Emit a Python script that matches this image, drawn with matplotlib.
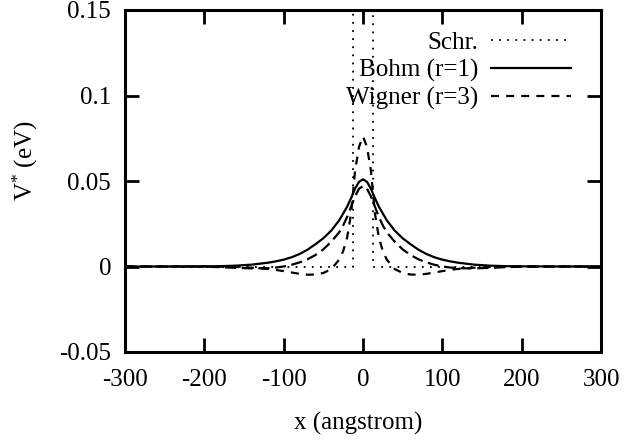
import matplotlib
matplotlib.use("Agg")
import matplotlib.pyplot as plt

plt.rcParams['font.family'] = ['Liberation Serif', 'DejaVu Serif']
plt.rcParams['mathtext.fontset'] = 'custom'
plt.rcParams['mathtext.rm'] = 'Liberation Serif'
plt.rcParams['mathtext.it'] = 'Liberation Serif:italic'
plt.rcParams['axes.unicode_minus'] = False

# ---- data ----
x = [-300, -250, -200, -180, -160, -140, -120, -110, -100, -90, -80, -70, -60, -50,
     -40, -30, -25, -20, -15, -10, -5, 0, 5, 10, 15, 20, 25, 30, 40, 50, 60, 70,
     80, 90, 100, 110, 120, 140, 160, 180, 200, 250, 300]

bohm = [0.0, 0.0, 0.0001, 0.0002, 0.0005, 0.0011, 0.0022, 0.003, 0.004, 0.0054,
        0.0073, 0.0098, 0.013, 0.0165, 0.021, 0.027, 0.031, 0.035, 0.040, 0.0455,
        0.0495, 0.051,
        0.0495, 0.0455, 0.040, 0.035, 0.031, 0.027, 0.021, 0.0165, 0.013, 0.0098,
        0.0073, 0.0054, 0.004, 0.003, 0.0022, 0.0011, 0.0005, 0.0002, 0.0001, 0.0, 0.0]

wigner = [0.0, 0.0, 0.0, -0.0001, -0.0003, -0.0007, -0.0014, -0.002, -0.0027, -0.0035,
          -0.0043, -0.0048, -0.0047, -0.0038, -0.0015, 0.004, 0.009, 0.017, 0.031,
          0.056, 0.070, 0.076,
          0.070, 0.056, 0.031, 0.017, 0.009, 0.004, -0.0015, -0.0038, -0.0047, -0.0048,
          -0.0043, -0.0035, -0.0027, -0.002, -0.0014, -0.0007, -0.0003, -0.0001, 0.0, 0.0, 0.0]

other = [0.0, 0.0, -0.0001, -0.0004, -0.0008, -0.0011, -0.001, -0.0006, 0.0, 0.001,
         0.0024, 0.0042, 0.0067, 0.010, 0.0145, 0.020, 0.024, 0.029, 0.035, 0.041,
         0.0455, 0.047,
         0.0455, 0.041, 0.035, 0.029, 0.024, 0.020, 0.0145, 0.010, 0.0067, 0.0042,
         0.0024, 0.001, 0.0, -0.0006, -0.001, -0.0011, -0.0008, -0.0004, -0.0001, 0.0, 0.0]

schr_x = [-300, -13, -13, 13, 13, 300]
schr_v = [0.0, 0.0, 0.3, 0.3, 0.0, 0.0]

xticks = [-300, -200, -100, 0, 100, 200, 300]
xticklabels = ['-300', '-200', '-100', '0', '100', '200', '300']
yticks = [-0.05, 0, 0.05, 0.1, 0.15]
yticklabels = ['-0.05', '0', '0.05', '0.1', '0.15']

FS = 18

# ---- figure ----
fig = plt.figure(figsize=(6.24, 4.41), dpi=100)
ax = fig.add_axes([125/624, 1 - 352/441, 476/624, 342/441])

ax.plot(schr_x, schr_v, color='black', lw=1.3, linestyle=(0, (1, 3.5)), label='Schr.')
ax.plot(x, bohm, color='black', lw=1.6, linestyle='-', label='Bohm (r=1)')
ax.plot(x, wigner, color='black', lw=1.6, linestyle=(0, (3.6, 3.2)), label='Wigner (r=3)')
ax.plot(x, other, color='black', lw=1.6, linestyle=(0, (5, 2.5)))

ax.set_xlim(-300, 300)
ax.set_ylim(-0.05, 0.15)
ax.set_xticks(xticks)
ax.set_xticklabels(xticklabels)
ax.set_yticks(yticks)
ax.set_yticklabels(yticklabels)

ax.tick_params(direction='in', length=10, width=2, labelsize=FS,
               top=True, right=True)
ax.tick_params(axis='x', pad=12)
ax.tick_params(axis='y', pad=10)
for s in ax.spines.values():
    s.set_linewidth(2.2)

ax.set_xlabel('x (angstrom)', fontsize=FS)
ax.xaxis.set_label_coords(0.49, -0.175)
ax.set_ylabel(r'$\mathregular{V^{*}}$ (eV)', fontsize=FS)
ax.yaxis.set_label_coords(-0.179, 0.56)

leg = ax.legend(loc='upper right', bbox_to_anchor=(0.958, 0.966), frameon=False,
                markerfirst=False, fontsize=FS, handlelength=3.2,
                handletextpad=0.5, labelspacing=0.19, borderaxespad=0)
try:
    for col in leg._legend_handle_box.get_children():
        col.align = 'right'
except Exception:
    pass

fig.savefig('out.png', dpi=100)
